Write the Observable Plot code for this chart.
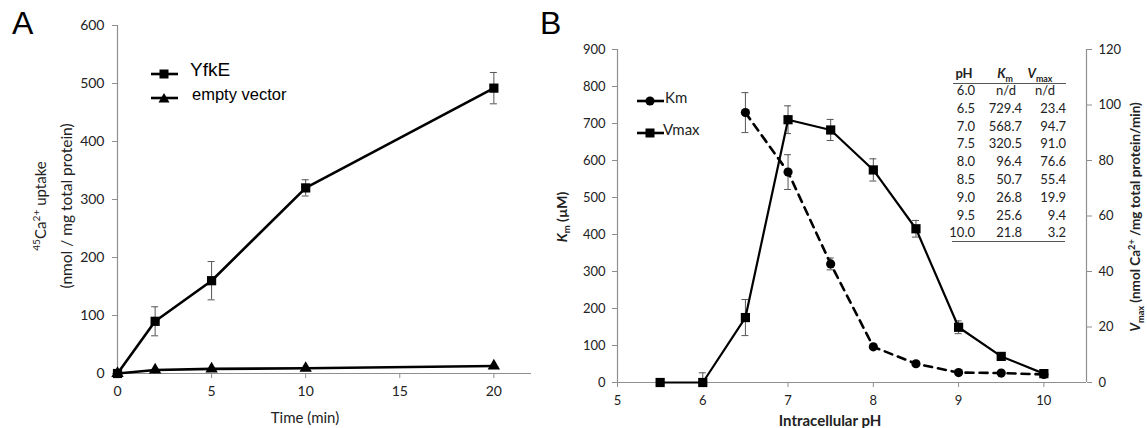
<!DOCTYPE html>
<html><head><meta charset="utf-8">
<script src="https://cdn.jsdelivr.net/npm/d3@7"></script>
<script src="https://cdn.jsdelivr.net/npm/@observablehq/plot@0.6"></script>
<style>
body{margin:0;background:#fff;}
#wrap{position:relative;width:1147px;height:428px;overflow:hidden;font-family:Lato,"Open Sans",sans-serif;color:#222;background:#fff;}
#wrap svg{position:absolute;top:0;}
.t{position:absolute;white-space:nowrap;}
.rot{transform:translate(-50%,-50%) rotate(-90deg);}
sup,sub{font-size:0.68em;line-height:0;}
.cell{position:absolute;height:18px;line-height:18px;font-size:13px;white-space:nowrap;}
.hl{position:absolute;height:0;border-top:1.5px solid #555;}
</style></head><body><div id="wrap"></div>
<script>
// ---------- data ----------
const timeMin      = [0, 2, 5, 10, 20];
const yfkeUptake   = [0, 90, 160, 320, 492];
const yfkeErr      = [0, 25, 33, 14, 27];
const emptyUptake  = [0, 6, 8, 9, 13];
const timeTicks    = [0, 5, 10, 15, 20];
const uptakeTicks  = [0, 100, 200, 300, 400, 500, 600];

const phKm     = [6.5, 7.0, 7.5, 8.0, 8.5, 9.0, 9.5, 10.0];
const kmValues = [729.4, 568.7, 320.5, 96.4, 50.7, 26.8, 25.6, 21.8];
const kmErr    = [54, 47, 16, 0, 0, 0, 0, 0];
const phVmax     = [5.5, 6.0, 6.5, 7.0, 7.5, 8.0, 8.5, 9.0, 9.5, 10.0];
const vmaxValues = [0, 0, 23.4, 94.7, 91.0, 76.6, 55.4, 19.9, 9.4, 3.2];
const vmaxErr    = [0, 3.5, 6.5, 5, 3.8, 4, 3, 2.3, 0, 0.8];
const phTicks   = [5, 6, 7, 8, 9, 10];
const kmTicks   = [0, 100, 200, 300, 400, 500, 600, 700, 800, 900];
const vmaxTicks = [0, 20, 40, 60, 80, 100, 120];

const tablePH   = ["6.0","6.5","7.0","7.5","8.0","8.5","9.0","9.5","10.0"];
const tableKm   = ["n/d","729.4","568.7","320.5","96.4","50.7","26.8","25.6","21.8"];
const tableVmax = ["n/d","23.4","94.7","91.0","76.6","55.4","19.9","9.4","3.2"];

// ---------- helpers ----------
const wrap = document.getElementById("wrap");
const axisGray = "#8f8f8f";
const errGray = "#555";
function addEl(html, css){ const d=document.createElement("div"); d.className="t"; d.innerHTML=html; Object.assign(d.style, css); wrap.appendChild(d); return d; }
function addSvg(svg, left){ svg.style.left = left+"px"; wrap.appendChild(svg); }
function errMarks(data, x){
  return [
    Plot.ruleX(data, {x, y1: d=>Math.max(0,d.v-d.e), y2: d=>d.v+d.e, stroke: errGray, strokeWidth: 1}),
    Plot.ruleY(data, {x1: x, x2: x, y: d=>d.v+d.e, insetLeft: -3.5, insetRight: -3.5, stroke: errGray, strokeWidth: 1}),
    Plot.ruleY(data.filter(d=>d.v-d.e>0), {x1: x, x2: x, y: d=>d.v-d.e, insetLeft: -3.5, insetRight: -3.5, stroke: errGray, strokeWidth: 1})
  ];
}
const intFmt = d => String(d);

// ---------- panel A ----------
const yfke = timeMin.map((t,i)=>({t, v:yfkeUptake[i], e:yfkeErr[i]}));
const emptyV = timeMin.map((t,i)=>({t, v:emptyUptake[i]}));
const plotA = Plot.plot({
  width: 560, height: 428, marginLeft: 117, marginRight: 29, marginTop: 25, marginBottom: 55,
  style: {fontFamily: "Lato, sans-serif", fontSize: "14px", color: "#222", background: "transparent", overflow: "visible"},
  x: {domain: [0, 22], label: null},
  y: {domain: [0, 600], label: null},
  marks: [
    Plot.ruleX([0], {stroke: axisGray, strokeWidth: 1.2}),
    Plot.ruleY([0], {stroke: axisGray, strokeWidth: 1.2}),
    Plot.axisY({ticks: uptakeTicks, tickSize: 5, tickPadding: 8, stroke: axisGray, fill: "#222", label: null, tickFormat: intFmt}),
    Plot.axisX({ticks: timeTicks, tickSize: 5, tickPadding: 8, stroke: axisGray, fill: "#222", label: null, tickFormat: intFmt}),
    ...errMarks(yfke.filter(d=>d.e>0), "t"),
    Plot.line(emptyV, {x: "t", y: "v", stroke: "#000", strokeWidth: 2.6}),
    Plot.dot(emptyV, {x: "t", y: "v", symbol: "triangle", fill: "#000", r: 4.6}),
    Plot.line(yfke, {x: "t", y: "v", stroke: "#000", strokeWidth: 2.6}),
    Plot.dot(yfke, {x: "t", y: "v", symbol: "square", fill: "#000", r: 5.2})
  ]
});
addSvg(plotA, 0);

// ---------- panel B ----------
const kmData = phKm.map((p,i)=>({p, v:kmValues[i], e:kmErr[i]}));
const vmData = phVmax.map((p,i)=>({p, v:vmaxValues[i], e:vmaxErr[i]}));
const bDims = {width: 607, height: 428, marginLeft: 77, marginRight: 61, marginTop: 49, marginBottom: 46};
const bStyle = {fontFamily: "Lato, sans-serif", fontSize: "13px", color: "#222", background: "transparent", overflow: "visible"};
const plotB1 = Plot.plot({
  ...bDims, style: bStyle,
  x: {domain: [5, 10.5], label: null},
  y: {domain: [0, 900], label: null},
  marks: [
    Plot.ruleX([5], {stroke: axisGray, strokeWidth: 1.2}),
    Plot.ruleY([0], {stroke: axisGray, strokeWidth: 1.2}),
    Plot.axisY({ticks: kmTicks, tickSize: 5, tickPadding: 7, stroke: axisGray, fill: "#222", label: null, tickFormat: intFmt}),
    Plot.axisX({ticks: phTicks, tickSize: 5, tickPadding: 8, stroke: axisGray, fill: "#222", label: null, tickFormat: intFmt}),
    ...errMarks(kmData.filter(d=>d.e>0), "p"),
    Plot.line(kmData, {x: "p", y: "v", stroke: "#000", strokeWidth: 2.6, strokeDasharray: "8,6"}),
    Plot.dot(kmData, {x: "p", y: "v", fill: "#000", r: 4.6})
  ]
});
addSvg(plotB1, 540);
const plotB2 = Plot.plot({
  ...bDims, style: bStyle,
  x: {domain: [5, 10.5], label: null, axis: null},
  y: {domain: [0, 120], label: null, axis: null},
  marks: [
    Plot.ruleX([10.5], {stroke: axisGray, strokeWidth: 1.2}),
    Plot.axisY({anchor: "right", ticks: vmaxTicks, tickSize: 5, tickPadding: 7, stroke: axisGray, fill: "#222", label: null, tickFormat: intFmt}),
    ...errMarks(vmData.filter(d=>d.e>0), "p"),
    Plot.line(vmData, {x: "p", y: "v", stroke: "#000", strokeWidth: 2.2}),
    Plot.dot(vmData, {x: "p", y: "v", symbol: "square", fill: "#000", r: 5.2})
  ]
});
addSvg(plotB2, 540);

// ---------- texts ----------
addEl("A", {left: "12px", top: "5px", fontFamily: "'Liberation Sans', Arial, sans-serif", fontSize: "32px", color: "#000"});
addEl("B", {left: "540px", top: "5px", fontFamily: "'Liberation Sans', Arial, sans-serif", fontSize: "32px", color: "#000"});

addEl("<sup>45</sup>Ca<sup>2+</sup> uptake", {left: "40px", top: "206px", fontSize: "15px"}).classList.add("rot");
addEl("(nmol / mg total protein)", {left: "66px", top: "206px", fontSize: "15.5px"}).classList.add("rot");
addEl("Time (min)", {left: "305px", top: "417px", fontSize: "15px", transform: "translate(-50%,-50%)"});

addEl("<i>K</i><sub>m</sub> (µM)", {left: "561px", top: "217px", fontSize: "14px", fontWeight: "bold"}).classList.add("rot");
addEl("<i>V</i><sub>max</sub> (nmol Ca<sup>2+</sup> /mg total protein/min)", {left: "1135px", top: "217px", fontSize: "13.5px", fontWeight: "bold"}).classList.add("rot");
addEl("Intracellular pH", {left: "830px", top: "420px", fontSize: "15px", fontWeight: "bold", transform: "translate(-50%,-50%)"});

// legends
function key(symbol){
  const s = symbol === "square" ? '<rect x="8.5" y="3.5" width="9" height="9" fill="#000"/>'
          : symbol === "triangle" ? '<path d="M13 3 L18.5 12.5 L7.5 12.5 Z" fill="#000"/>'
          : '<circle cx="13" cy="8" r="4.6" fill="#000"/>';
  return `<svg width="27" height="16" style="position:static;vertical-align:middle">
    <line x1="0" y1="8" x2="27" y2="8" stroke="#000" stroke-width="2.6"/>${s}</svg>`;
}
addEl(key("square"), {left: "151px", top: "62px"});
addEl("YfkE", {left: "190px", top: "70px", fontFamily: "'Liberation Sans', Arial, sans-serif", fontSize: "19px", color: "#000", transform: "translateY(-50%)"});
addEl(key("triangle"), {left: "151px", top: "86px"});
addEl("empty vector", {left: "192px", top: "94px", fontFamily: "'Liberation Sans', Arial, sans-serif", fontSize: "16.5px", color: "#000", transform: "translateY(-50%)"});

addEl(key("circle"), {left: "637px", top: "89px"});
addEl("Km", {left: "665px", top: "97px", fontSize: "15px", transform: "translateY(-50%)"});
addEl(key("square"), {left: "637px", top: "121px"});
addEl("Vmax", {left: "663px", top: "129px", fontSize: "15px", transform: "translateY(-50%)"});

// table
const colRight = [975, 1022, 1066];
const ndCenter = [null, 1006, 1045];
function cell(txt, col, cy){
  const d = document.createElement("div"); d.className = "cell"; d.innerHTML = txt;
  if (txt === "n/d") { d.style.left = (ndCenter[col]-30)+"px"; d.style.width = "60px"; d.style.textAlign = "center"; }
  else { d.style.left = (colRight[col]-60)+"px"; d.style.width = "60px"; d.style.textAlign = "right"; }
  d.style.top = (cy-9)+"px";
  wrap.appendChild(d);
}
function hcell(html, cx, cy){
  const d = document.createElement("div"); d.className = "cell"; d.innerHTML = html;
  d.style.left = (cx-30)+"px"; d.style.width = "60px"; d.style.textAlign = "center"; d.style.top = (cy-9)+"px"; d.style.fontWeight = "bold";
  wrap.appendChild(d);
}
hcell("pH", 964, 73);
hcell("<i>K</i><sub>m</sub>", 1005, 73);
hcell("<i>V</i><sub>max</sub>", 1040, 73);
tablePH.forEach((ph,i)=>{
  const cy = 90 + i*17.8;
  cell(ph, 0, cy); cell(tableKm[i], 1, cy); cell(tableVmax[i], 2, cy);
});
const l1 = document.createElement("div"); l1.className="hl"; Object.assign(l1.style,{left:"953px", top:"83px", width:"113px"}); wrap.appendChild(l1);
const l2 = document.createElement("div"); l2.className="hl"; Object.assign(l2.style,{left:"952px", top:"241px", width:"113px"}); wrap.appendChild(l2);
</script>
</body></html>
